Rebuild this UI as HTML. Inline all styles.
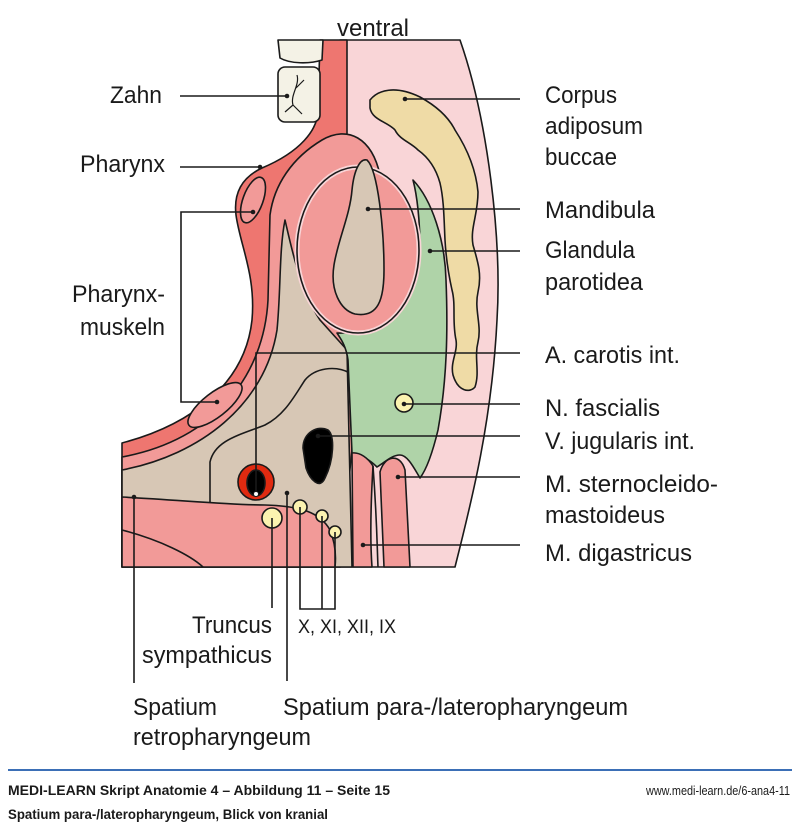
<!DOCTYPE html>
<html><head><meta charset="utf-8"><style>
html,body{margin:0;padding:0;background:#fff;}
svg{display:block;}
text{font-family:"Liberation Sans",sans-serif;fill:#1a1a1a;}
</style></head><body>
<svg width="800" height="830" viewBox="0 0 800 830" xmlns="http://www.w3.org/2000/svg">
<g stroke="#1a1a1a" stroke-width="1.6" stroke-linejoin="round">
<path d="M340,40 L460,40 C488,120 502,240 497,320 C492,420 472,500 455,567 L340,567 Z" fill="#f9d5d7"/>
<path d="M320,40 L347,40 L347,140 L340,567 L122,567 L122,443 C190,425 245,385 252,320 C256,275 240,245 236,215 C233,190 245,176 262,168 C300,152 318,130 318,110 Z" fill="#ee7670"/>
<path d="M380,175 C372,138 348,125 322,140 C292,158 274,185 270,215 L268,300 C264,375 215,440 122,457 L122,567 L340,567 Z" fill="#f29a98"/>
<path d="M285,220 C292,250 300,290 320,320 L347,350 L352,567 L122,567 L122,470 C200,455 265,405 277,330 C281,290 279,250 285,220 Z" fill="#d7c7b5"/>
<path d="M210,503 L210,462 C215,440 240,435 265,425 C285,415 295,395 305,380 C315,368 335,365 350,373" fill="none"/>
<path d="M122,497 C180,500 230,505 265,505 C300,506 320,512 330,530 C336,545 336,558 335,567 L122,567 Z" fill="#f29a98"/>
<path d="M122,530 C160,540 190,555 203,567" fill="none"/>
<path d="M413,180 C432,200 445,240 446,280 C448,330 447,380 438,430 C432,455 426,470 420,478 C415,470 408,455 400,455 C392,455 385,462 377,467 C370,460 362,455 352,453 L348,360 C346,345 340,338 337,333 C380,335 420,300 420,250 C420,220 417,195 413,180 Z" fill="#afd3a8"/>
<path d="M352,453 C360,452 368,458 373,466 C371,500 370,540 372,567 L353,567 Z" fill="#f29a98"/>
<path d="M380,472 C384,456 400,452 405,470 L410,567 L384,567 Z" fill="#f29a98"/>
<path d="M373,466 C377,520 377,545 378,567" fill="none"/>
<ellipse cx="358" cy="250" rx="61" ry="83" fill="#f29a98" stroke="#f9d5d7" stroke-width="5"/>
<ellipse cx="358" cy="250" rx="61" ry="83" fill="none"/>
<path d="M367,160 C378,170 384,230 384,270 C384,300 378,318 355,314 C340,310 330,290 334,265 C338,240 350,215 352,190 C354,170 360,158 367,160 Z" fill="#d7c7b5"/>
<ellipse cx="253" cy="200" rx="10" ry="24" transform="rotate(20 253 200)" fill="#f29a98"/>
<ellipse cx="215" cy="405" rx="33" ry="12" transform="rotate(-38 215 405)" fill="#f29a98"/>
<path d="M278,40 L323,40 L322,60 C310,64 290,64 280,58 Z" fill="#f4f2e6"/>
<rect x="278" y="67" width="42" height="55" rx="7" fill="#f4f2e6"/>
<path d="M297,75 C300,85 290,95 293,105 M293,105 L285,112 M293,105 L302,114 M296,88 L304,80" fill="none" stroke-width="1.2"/>
<path d="M370,100 C378,90 395,85 420,97 C440,108 450,120 455,130 C468,150 476,170 478,192 C478,215 470,228 473,245 C478,262 482,275 478,292 C474,310 482,325 478,342 C474,358 480,372 475,387 C470,393 458,392 453,375 C450,362 458,352 456,340 C452,322 456,305 452,290 C448,272 446,258 445,240 C444,220 444,200 440,183 C435,165 425,155 418,150 C410,142 400,140 395,130 C388,122 372,120 370,108 Z" fill="#efdba6"/>
<circle cx="256" cy="482" r="18" fill="#e02a10"/>
<ellipse cx="256" cy="483" rx="9" ry="13" fill="#000"/>
<path d="M303,448 C303,432 318,425 328,430 C335,435 334,460 325,478 C320,490 310,480 306,468 Z" fill="#000"/>
<g fill="#fbf3b0">
<circle cx="404" cy="403" r="9"/>
<circle cx="272" cy="518" r="10"/>
<circle cx="300" cy="507" r="7"/>
<circle cx="322" cy="516" r="6"/>
<circle cx="335" cy="532" r="6"/>
</g>
</g>
<g stroke="#1a1a1a" stroke-width="1.6" fill="none">
<path d="M180,96 L287,96"/>
<path d="M180,167 L260,167"/>
<path d="M253,212 L181,212 L181,402 L217,402"/>
<path d="M405,99 L520,99"/>
<path d="M368,209 L520,209"/>
<path d="M430,251 L520,251"/>
<path d="M256,494 L256,353 L520,353"/>
<path d="M404,404 L520,404"/>
<path d="M318,436 L520,436"/>
<path d="M398,477 L520,477"/>
<path d="M363,545 L520,545"/>
<path d="M134,497 L134,683"/>
<path d="M272,518 L272,608"/>
<path d="M287,493 L287,681"/>
<path d="M300,507 L300,609 L335,609 L335,532 M322,516 L322,609"/>
</g>
<g fill="#1a1a1a">
<circle cx="287" cy="96" r="2.3"/><circle cx="260" cy="167" r="2.3"/><circle cx="253" cy="212" r="2.3"/><circle cx="217" cy="402" r="2.3"/>
<circle cx="405" cy="99" r="2.3"/><circle cx="368" cy="209" r="2.3"/><circle cx="430" cy="251" r="2.3"/><circle cx="404" cy="404" r="2.3"/>
<circle cx="318" cy="436" r="2.3"/><circle cx="398" cy="477" r="2.3"/><circle cx="363" cy="545" r="2.3"/><circle cx="134" cy="497" r="2.3"/>
<circle cx="287" cy="493" r="2.3"/>
</g>
<circle cx="256" cy="494" r="2.5" fill="#fff" stroke="#1a1a1a" stroke-width="1"/>
<g font-size="24" lengthAdjust="spacingAndGlyphs">
<text x="337" y="36" textLength="72" lengthAdjust="spacingAndGlyphs">ventral</text>
<text x="110" y="103" textLength="52" lengthAdjust="spacingAndGlyphs">Zahn</text>
<text x="80" y="172" textLength="85" lengthAdjust="spacingAndGlyphs">Pharynx</text>
<text x="72" y="302" textLength="93" lengthAdjust="spacingAndGlyphs">Pharynx-</text>
<text x="80" y="335" textLength="85" lengthAdjust="spacingAndGlyphs">muskeln</text>
<text x="545" y="103" textLength="72" lengthAdjust="spacingAndGlyphs">Corpus</text>
<text x="545" y="134" textLength="98" lengthAdjust="spacingAndGlyphs">adiposum</text>
<text x="545" y="165" textLength="72" lengthAdjust="spacingAndGlyphs">buccae</text>
<text x="545" y="218" textLength="110" lengthAdjust="spacingAndGlyphs">Mandibula</text>
<text x="545" y="258" textLength="90" lengthAdjust="spacingAndGlyphs">Glandula</text>
<text x="545" y="290" textLength="98" lengthAdjust="spacingAndGlyphs">parotidea</text>
<text x="545" y="363" textLength="135" lengthAdjust="spacingAndGlyphs">A. carotis int.</text>
<text x="545" y="416" textLength="115" lengthAdjust="spacingAndGlyphs">N. fascialis</text>
<text x="545" y="449" textLength="150" lengthAdjust="spacingAndGlyphs">V. jugularis int.</text>
<text x="545" y="492" textLength="173" lengthAdjust="spacingAndGlyphs">M. sternocleido-</text>
<text x="545" y="523" textLength="120" lengthAdjust="spacingAndGlyphs">mastoideus</text>
<text x="545" y="561" textLength="147" lengthAdjust="spacingAndGlyphs">M. digastricus</text>
<text x="192" y="633" textLength="80" lengthAdjust="spacingAndGlyphs">Truncus</text>
<text x="142" y="663" textLength="130" lengthAdjust="spacingAndGlyphs">sympathicus</text>
<text x="133" y="715" textLength="84" lengthAdjust="spacingAndGlyphs">Spatium</text>
<text x="133" y="745" textLength="178" lengthAdjust="spacingAndGlyphs">retropharyngeum</text>
<text x="283" y="715" textLength="345" lengthAdjust="spacingAndGlyphs">Spatium para-/lateropharyngeum</text>
</g>
<text x="298" y="633" font-size="19" textLength="98" lengthAdjust="spacingAndGlyphs">X, XI, XII, IX</text>
<rect x="8" y="769" width="784" height="2" fill="#3b6fb6"/>
<text x="8" y="795" font-size="14" font-weight="bold" textLength="382" lengthAdjust="spacingAndGlyphs">MEDI-LEARN Skript Anatomie 4 – Abbildung 11 – Seite 15</text>
<text x="646" y="795" font-size="13" textLength="144" lengthAdjust="spacingAndGlyphs">www.medi-learn.de/6-ana4-11</text>
<text x="8" y="819" font-size="14" font-weight="bold" textLength="320" lengthAdjust="spacingAndGlyphs">Spatium para-/lateropharyngeum, Blick von kranial</text>
</svg>
</body></html>
